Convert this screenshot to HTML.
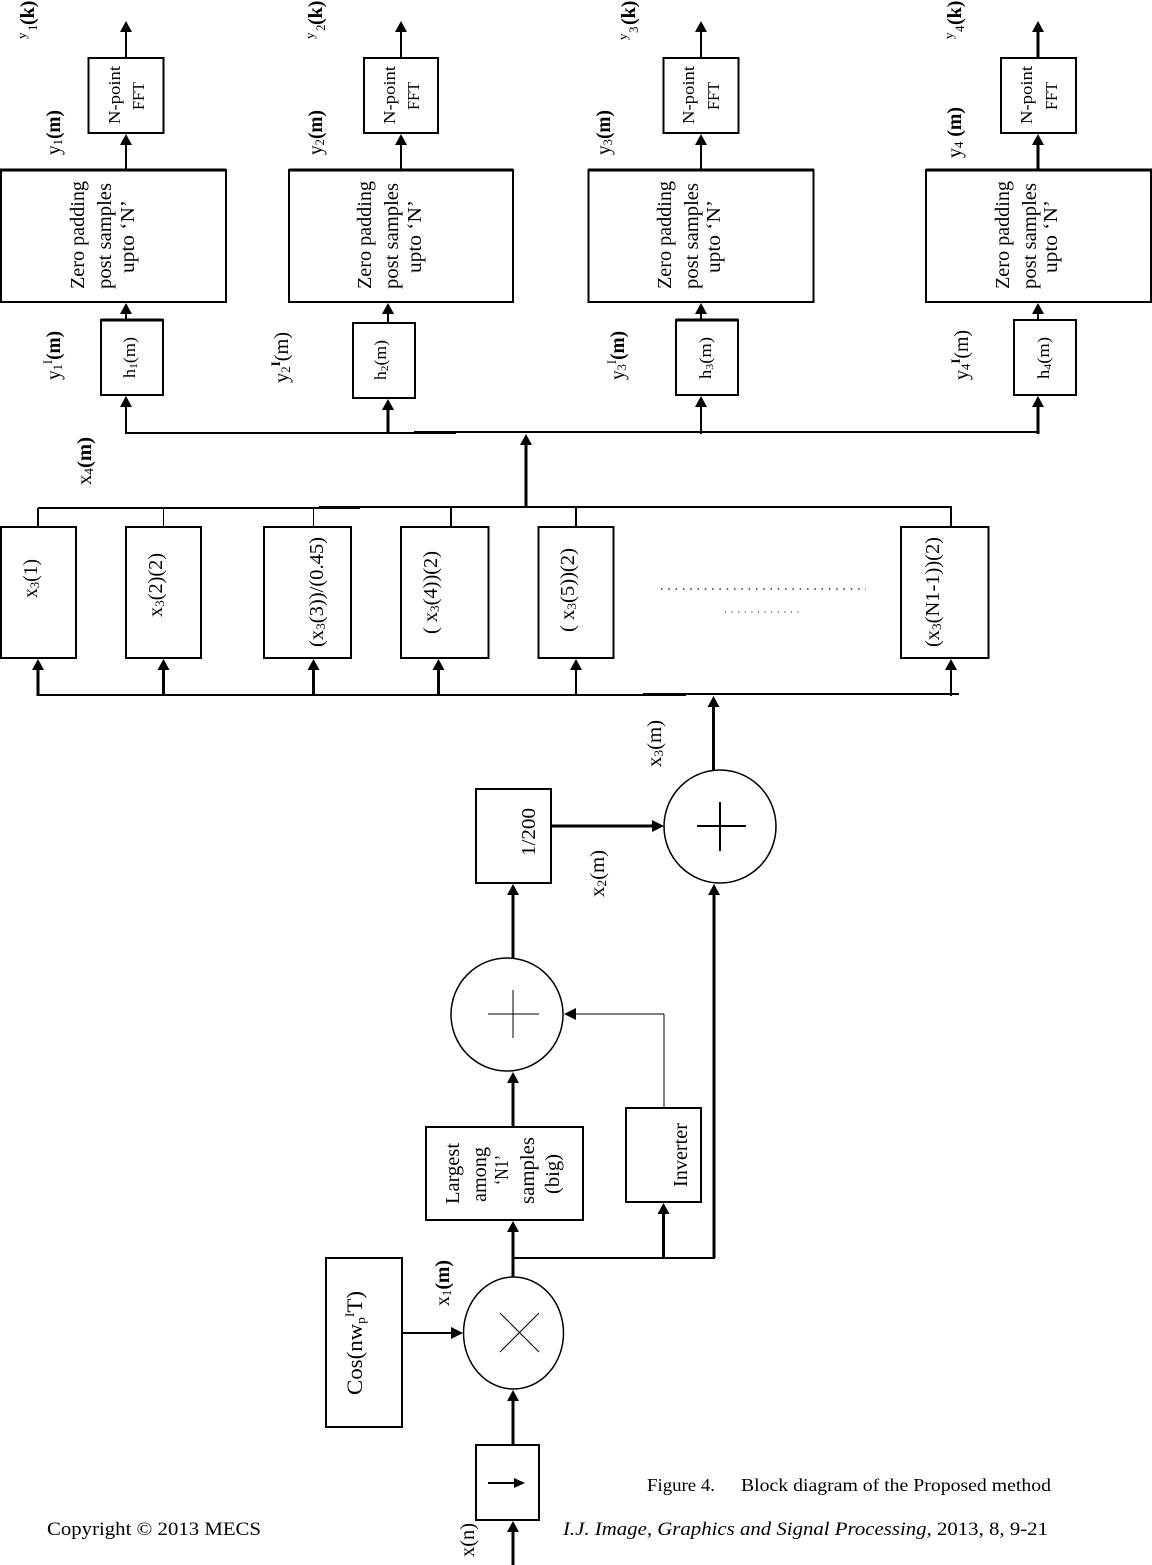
<!DOCTYPE html>
<html><head><meta charset="utf-8"><title>Block diagram of the Proposed method</title>
<style>
html,body{margin:0;padding:0;background:#fff}
svg{display:block}
text{font-family:"Liberation Serif",serif;fill:#000;font-size:20px}
rect{fill:#fff;stroke:#000;stroke-width:2}
line{stroke:#000;stroke-width:2}
.b{stroke-width:3}
.t{stroke-width:1}
ellipse{fill:#fff;stroke:#000;stroke-width:1.5}
</style></head><body>
<svg xmlns="http://www.w3.org/2000/svg" width="1152" height="1565" viewBox="0 0 1152 1565">
<defs><path id="u" d="M0 0L-6 11L6 11Z"/></defs>

<!-- top boxes -->
<g shape-rendering="crispEdges">
<rect x="88.5" y="58" width="75" height="75"/><rect x="364" y="58" width="74" height="75"/><rect x="663.5" y="58" width="75" height="75"/><rect x="1001" y="58" width="75" height="75"/>
<rect x="1" y="170" width="225" height="132"/><rect x="289" y="170" width="224" height="132"/><rect x="588.5" y="170" width="225" height="132"/><rect x="926" y="170" width="225" height="132"/>
<line x1="0" y1="170" x2="226" y2="170" class="b"/><line x1="289" y1="170" x2="513" y2="170" class="b"/><line x1="588" y1="170" x2="814" y2="170" class="b"/><line x1="926" y1="170" x2="1152" y2="170" class="b"/>
<rect x="101" y="320" width="62" height="75"/><rect x="353" y="323" width="62" height="75"/><rect x="676" y="320" width="62" height="75"/><rect x="1014" y="320" width="62" height="75"/>
<line x1="101" y1="320" x2="163" y2="320" class="b"/><line x1="676" y1="320" x2="738" y2="320" class="b"/>

<!-- top connectors -->
<line x1="126" y1="30" x2="126" y2="58"/><line x1="401" y1="30" x2="401" y2="58"/><line x1="701" y1="30" x2="701" y2="58"/><line x1="1038" y1="30" x2="1038" y2="58" class="b"/>
<line x1="126" y1="143" x2="126" y2="170"/><line x1="401" y1="143" x2="401" y2="170"/><line x1="701" y1="143" x2="701" y2="170"/><line x1="1038" y1="143" x2="1038" y2="170" class="b"/>
<line x1="126" y1="312" x2="126" y2="320"/><line x1="388" y1="312" x2="388" y2="323"/><line x1="701" y1="312" x2="701" y2="320"/><line x1="1038" y1="312" x2="1038" y2="320"/>
<line x1="126" y1="405" x2="126" y2="434"/><line x1="388" y1="408" x2="388" y2="434" class="b"/><line x1="701" y1="405" x2="701" y2="434"/><line x1="1038" y1="405" x2="1038" y2="434" class="b"/>
<line x1="125" y1="433" x2="456" y2="433"/><line x1="414" y1="432" x2="1039" y2="432"/>
<line x1="526" y1="444" x2="526" y2="508" class="b"/>
<line x1="38" y1="508" x2="360" y2="508"/><line x1="319" y1="507" x2="952" y2="507"/>
<line x1="38" y1="508" x2="38" y2="527"/><line x1="163.5" y1="508" x2="163.5" y2="527" class="t"/><line x1="313.5" y1="508" x2="313.5" y2="527" class="t"/><line x1="451" y1="507" x2="451" y2="527"/><line x1="576" y1="507" x2="576" y2="527"/><line x1="951" y1="507" x2="951" y2="527"/>

<!-- row boxes -->
<rect x="1" y="527" width="75" height="131"/><rect x="126" y="527" width="75" height="131"/><rect x="264" y="527" width="87" height="131"/><rect x="401" y="527" width="87.5" height="131"/><rect x="538.5" y="527" width="75" height="131"/><rect x="901" y="527" width="87.5" height="131"/>
<line x1="38" y1="669" x2="38" y2="696" class="b"/><line x1="163.5" y1="669" x2="163.5" y2="696" class="b"/><line x1="313.5" y1="669" x2="313.5" y2="696" class="b"/><line x1="438.5" y1="669" x2="438.5" y2="696" class="b"/><line x1="576" y1="669" x2="576" y2="696"/><line x1="951" y1="669" x2="951" y2="696"/>
<line x1="37" y1="695" x2="686" y2="695"/><line x1="643" y1="694" x2="959" y2="694"/>
<line x1="713.5" y1="707" x2="713.5" y2="770" class="b"/>
</g>
<line x1="661" y1="589" x2="866" y2="589" style="stroke-dasharray:1.5 5.8;stroke-width:1.2"/>
<line x1="725" y1="612" x2="804" y2="612" style="stroke-dasharray:1 5.6;stroke-width:1"/>

<!-- lower part -->
<ellipse cx="720" cy="826.5" rx="56" ry="56.5"/>
<ellipse cx="507" cy="1014.5" rx="56" ry="56.5"/>
<ellipse cx="513.5" cy="1333" rx="50" ry="56"/>
<g shape-rendering="crispEdges">
<line x1="697" y1="826" x2="746" y2="826"/><line x1="720" y1="802" x2="720" y2="851"/>
<line x1="488" y1="1014" x2="539" y2="1014" class="t"/><line x1="513" y1="990" x2="513" y2="1038" class="t"/>
<rect x="476" y="789" width="75" height="94"/>
<rect x="426" y="1127" width="157" height="93"/>
<rect x="626" y="1108" width="75" height="94"/>
<rect x="326" y="1258" width="76" height="169"/>
<rect x="476" y="1445" width="63" height="75"/>
<line x1="551" y1="826" x2="654" y2="826" class="b"/>
<line x1="714" y1="893" x2="714" y2="1258" class="b"/>
<line x1="513" y1="893" x2="513" y2="958" class="b"/>
<line x1="513" y1="1081" x2="513" y2="1127" class="b"/>
<line x1="664" y1="1014" x2="664" y2="1108" class="t"/>
<line x1="573" y1="1014" x2="664" y2="1014" class="t"/>
<line x1="513" y1="1231" x2="513" y2="1277" class="b"/>
<line x1="512" y1="1258" x2="715" y2="1258"/>
<line x1="663.5" y1="1212" x2="663.5" y2="1258" class="b"/>
<line x1="402" y1="1333" x2="453" y2="1333"/>
<line x1="513" y1="1399" x2="513" y2="1445" class="b"/>
<line x1="513" y1="1531" x2="513" y2="1565" class="b"/>
<line x1="488" y1="1483" x2="515" y2="1483"/>
</g>
<line x1="500" y1="1313" x2="539" y2="1352" class="t"/><line x1="539" y1="1313" x2="500" y2="1352" class="t"/>

<!-- arrowheads -->
<use href="#u" x="126" y="21"/><use href="#u" x="401" y="21"/><use href="#u" x="701" y="21"/><use href="#u" x="1038" y="21"/>
<use href="#u" x="126" y="134"/><use href="#u" x="401" y="134"/><use href="#u" x="701" y="134"/><use href="#u" x="1038" y="134"/>
<use href="#u" x="126" y="303"/><use href="#u" x="388" y="303"/><use href="#u" x="701" y="303"/><use href="#u" x="1038" y="303"/>
<use href="#u" x="126" y="396"/><use href="#u" x="388" y="399"/><use href="#u" x="701" y="396"/><use href="#u" x="1038" y="396"/>
<use href="#u" x="526" y="434"/>
<use href="#u" x="38" y="659"/><use href="#u" x="163.5" y="659"/><use href="#u" x="313.5" y="659"/><use href="#u" x="438.5" y="659"/><use href="#u" x="576" y="659"/><use href="#u" x="951" y="659"/>
<use href="#u" x="713.5" y="696"/>
<use href="#u" x="714" y="884"/><use href="#u" x="513" y="884"/><use href="#u" x="513" y="1072"/><use href="#u" x="513" y="1221"/><use href="#u" x="663.5" y="1203"/><use href="#u" x="513" y="1390"/><use href="#u" x="513" y="1521"/>
<path d="M664 826L652 820L652 832Z"/>
<path d="M564 1014L576 1008L576 1020Z"/>
<path d="M463 1333L451 1327L451 1339Z"/>
<path d="M525 1483L514 1478L514 1488Z"/>

<!-- zero padding labels -->
<text transform="translate(84,289) rotate(-90)" textLength="108" lengthAdjust="spacingAndGlyphs">Zero padding</text>
<text transform="translate(111,289) rotate(-90)" textLength="106" lengthAdjust="spacingAndGlyphs">post samples</text>
<text transform="translate(134,273) rotate(-90)" textLength="73" lengthAdjust="spacingAndGlyphs">upto  ‘N’</text>
<text transform="translate(371,289) rotate(-90)" textLength="108" lengthAdjust="spacingAndGlyphs">Zero padding</text>
<text transform="translate(398,289) rotate(-90)" textLength="106" lengthAdjust="spacingAndGlyphs">post samples</text>
<text transform="translate(421,273) rotate(-90)" textLength="73" lengthAdjust="spacingAndGlyphs">upto  ‘N’</text>
<text transform="translate(671,289) rotate(-90)" textLength="108" lengthAdjust="spacingAndGlyphs">Zero padding</text>
<text transform="translate(698,289) rotate(-90)" textLength="106" lengthAdjust="spacingAndGlyphs">post samples</text>
<text transform="translate(720,273) rotate(-90)" textLength="73" lengthAdjust="spacingAndGlyphs">upto  ‘N’</text>
<text transform="translate(1009,289) rotate(-90)" textLength="108" lengthAdjust="spacingAndGlyphs">Zero padding</text>
<text transform="translate(1036,289) rotate(-90)" textLength="106" lengthAdjust="spacingAndGlyphs">post samples</text>
<text transform="translate(1057,273) rotate(-90)" textLength="73" lengthAdjust="spacingAndGlyphs">upto  ‘N’</text>

<!-- FFT labels -->
<text style="font-size:17px" transform="translate(120,124) rotate(-90)" textLength="58" lengthAdjust="spacingAndGlyphs">N-point</text>
<text style="font-size:17px" transform="translate(144,110) rotate(-90)" textLength="28" lengthAdjust="spacingAndGlyphs">FFT</text>
<text style="font-size:17px" transform="translate(395,124) rotate(-90)" textLength="58" lengthAdjust="spacingAndGlyphs">N-point</text>
<text style="font-size:17px" transform="translate(419,110) rotate(-90)" textLength="28" lengthAdjust="spacingAndGlyphs">FFT</text>
<text style="font-size:17px" transform="translate(694,124) rotate(-90)" textLength="58" lengthAdjust="spacingAndGlyphs">N-point</text>
<text style="font-size:17px" transform="translate(719,110) rotate(-90)" textLength="28" lengthAdjust="spacingAndGlyphs">FFT</text>
<text style="font-size:17px" transform="translate(1032,124) rotate(-90)" textLength="58" lengthAdjust="spacingAndGlyphs">N-point</text>
<text style="font-size:17px" transform="translate(1057,110) rotate(-90)" textLength="28" lengthAdjust="spacingAndGlyphs">FFT</text>

<!-- h labels -->
<text style="font-size:17px" transform="translate(135,378) rotate(-90)" textLength="41" lengthAdjust="spacingAndGlyphs">h<tspan font-size="11" dy="2">1</tspan><tspan dy="-2">(m)</tspan></text>
<text style="font-size:17px" transform="translate(386,380) rotate(-90)" textLength="40" lengthAdjust="spacingAndGlyphs">h<tspan font-size="11" dy="2">2</tspan><tspan dy="-2">(m)</tspan></text>
<text style="font-size:17px" transform="translate(711,379) rotate(-90)" textLength="42" lengthAdjust="spacingAndGlyphs">h<tspan font-size="11" dy="2">3</tspan><tspan dy="-2">(m)</tspan></text>
<text style="font-size:17px" transform="translate(1049,379) rotate(-90)" textLength="42" lengthAdjust="spacingAndGlyphs">h<tspan font-size="11" dy="2">4</tspan><tspan dy="-2">(m)</tspan></text>

<!-- y(m) labels -->
<text transform="translate(60,155) rotate(-90)" textLength="45" lengthAdjust="spacingAndGlyphs">y<tspan font-size="13" dy="2">1</tspan><tspan dy="-2" font-weight="bold">(m)</tspan></text>
<text transform="translate(322,155) rotate(-90)" textLength="45" lengthAdjust="spacingAndGlyphs">y<tspan font-size="13" dy="2">2</tspan><tspan dy="-2" font-weight="bold">(m)</tspan></text>
<text transform="translate(610,155) rotate(-90)" textLength="45" lengthAdjust="spacingAndGlyphs">y<tspan font-size="13" dy="2">3</tspan><tspan dy="-2" font-weight="bold">(m)</tspan></text>
<text transform="translate(961,158) rotate(-90)" textLength="51" lengthAdjust="spacingAndGlyphs">y<tspan font-size="13" dy="2">4</tspan><tspan dy="-2" font-weight="bold"> (m)</tspan></text>

<text transform="translate(60,380) rotate(-90)" textLength="49" lengthAdjust="spacingAndGlyphs">y<tspan font-size="13" dy="2">1</tspan><tspan font-size="13" dy="-10">I</tspan><tspan dy="8" font-weight="bold">(m)</tspan></text>
<text transform="translate(288,383) rotate(-90)" textLength="51" lengthAdjust="spacingAndGlyphs">y<tspan font-size="13" dy="2">2</tspan><tspan font-size="13" dy="-10" font-weight="bold">I</tspan><tspan dy="8">(m)</tspan></text>
<text transform="translate(624,380) rotate(-90)" textLength="49" lengthAdjust="spacingAndGlyphs">y<tspan font-size="13" dy="2">3</tspan><tspan font-size="13" dy="-10">I</tspan><tspan dy="8" font-weight="bold">(m)</tspan></text>
<text transform="translate(968,380) rotate(-90)" textLength="50" lengthAdjust="spacingAndGlyphs">y<tspan font-size="13" dy="2">4</tspan><tspan font-size="13" dy="-10" font-weight="bold">I</tspan><tspan dy="8">(m)</tspan></text>

<!-- y(k) labels -->
<text style="font-size:13px" transform="translate(26,39) rotate(-90)">y</text><text style="font-size:13px" transform="translate(37,31) rotate(-90)">1</text><text style="font-size:20px;font-weight:bold" transform="translate(34,25) rotate(-90)">(k)</text>
<text style="font-size:13px" transform="translate(314,39) rotate(-90)">y</text><text style="font-size:13px" transform="translate(325,31) rotate(-90)">2</text><text style="font-size:20px;font-weight:bold" transform="translate(322,25) rotate(-90)">(k)</text>
<text style="font-size:13px" transform="translate(627,40) rotate(-90)">y</text><text style="font-size:13px" transform="translate(638,33) rotate(-90)">3</text><text style="font-size:20px;font-weight:bold" transform="translate(635,25) rotate(-90)">(k)</text>
<text style="font-size:13px" transform="translate(953,39) rotate(-90)">y</text><text style="font-size:13px" transform="translate(964,32) rotate(-90)">4</text><text style="font-size:20px;font-weight:bold" transform="translate(961,25) rotate(-90)">(k)</text>

<!-- x labels -->
<text transform="translate(91,485) rotate(-90)" textLength="48" lengthAdjust="spacingAndGlyphs">x<tspan font-size="13" dy="2">4</tspan><tspan dy="-2" font-weight="bold">(m)</tspan></text>
<text transform="translate(37,598) rotate(-90)" textLength="39" lengthAdjust="spacingAndGlyphs">x<tspan font-size="13" dy="2">3</tspan><tspan dy="-2">(1)</tspan></text>
<text transform="translate(162,617) rotate(-90)" textLength="64" lengthAdjust="spacingAndGlyphs">x<tspan font-size="13" dy="2">3</tspan><tspan dy="-2">(2)(2)</tspan></text>
<text transform="translate(323,647) rotate(-90)" textLength="110" lengthAdjust="spacingAndGlyphs">(x<tspan font-size="13" dy="2">3</tspan><tspan dy="-2">(3))/(0.45)</tspan></text>
<text transform="translate(437,634) rotate(-90)" textLength="83" lengthAdjust="spacingAndGlyphs">( x<tspan font-size="13" dy="2">3</tspan><tspan dy="-2">(4))(2)</tspan></text>
<text transform="translate(574,632) rotate(-90)" textLength="84" lengthAdjust="spacingAndGlyphs">( x<tspan font-size="13" dy="2">3</tspan><tspan dy="-2">(5))(2)</tspan></text>
<text transform="translate(939,647) rotate(-90)" textLength="110" lengthAdjust="spacingAndGlyphs">(x<tspan font-size="13" dy="2">3</tspan><tspan dy="-2">(N1-1))(2)</tspan></text>
<text transform="translate(661,767) rotate(-90)" textLength="47" lengthAdjust="spacingAndGlyphs">x<tspan font-size="13" dy="2">3</tspan><tspan dy="-2">(m)</tspan></text>
<text transform="translate(604,897) rotate(-90)" textLength="47" lengthAdjust="spacingAndGlyphs">x<tspan font-size="13" dy="2">2</tspan><tspan dy="-2">(m)</tspan></text>
<text transform="translate(535,856) rotate(-90)" textLength="48" lengthAdjust="spacingAndGlyphs">1/200</text>
<text transform="translate(449,1306) rotate(-90)" textLength="46" lengthAdjust="spacingAndGlyphs">x<tspan font-size="13" dy="2">1</tspan><tspan dy="-2" font-weight="bold">(m)</tspan></text>
<text transform="translate(474,1557) rotate(-90)" textLength="34" lengthAdjust="spacingAndGlyphs">x(n)</text>

<text transform="translate(459,1204) rotate(-90)" textLength="61" lengthAdjust="spacingAndGlyphs">Largest</text>
<text transform="translate(486,1202) rotate(-90)" textLength="55" lengthAdjust="spacingAndGlyphs">among</text>
<text transform="translate(508,1185) rotate(-90)" textLength="30" lengthAdjust="spacingAndGlyphs">‘N1’</text>
<text transform="translate(534,1204) rotate(-90)" textLength="67" lengthAdjust="spacingAndGlyphs">samples</text>
<text transform="translate(559,1194) rotate(-90)" textLength="40" lengthAdjust="spacingAndGlyphs">(big)</text>
<text transform="translate(687,1187) rotate(-90)" textLength="64" lengthAdjust="spacingAndGlyphs">Inverter</text>
<text style="font-size:22px" transform="translate(362,1395) rotate(-90)" textLength="104" lengthAdjust="spacingAndGlyphs">Cos(nw<tspan font-size="13" dy="3">p</tspan><tspan font-size="13" dy="-11">I</tspan><tspan dy="8">T)</tspan></text>

<!-- caption -->
<text x="647" y="1491" style="font-size:18px" textLength="68" lengthAdjust="spacingAndGlyphs">Figure 4.</text>
<text x="741" y="1491" style="font-size:18px" textLength="310" lengthAdjust="spacingAndGlyphs">Block diagram of the Proposed method</text>
<text x="47" y="1535" style="font-size:19px" textLength="214" lengthAdjust="spacingAndGlyphs">Copyright © 2013 MECS</text>
<text x="563" y="1535" style="font-size:19px" textLength="485" lengthAdjust="spacingAndGlyphs"><tspan font-style="italic">I.J. Image, Graphics and Signal Processing,</tspan> 2013, 8, 9-21</text>
</svg>
</body></html>
